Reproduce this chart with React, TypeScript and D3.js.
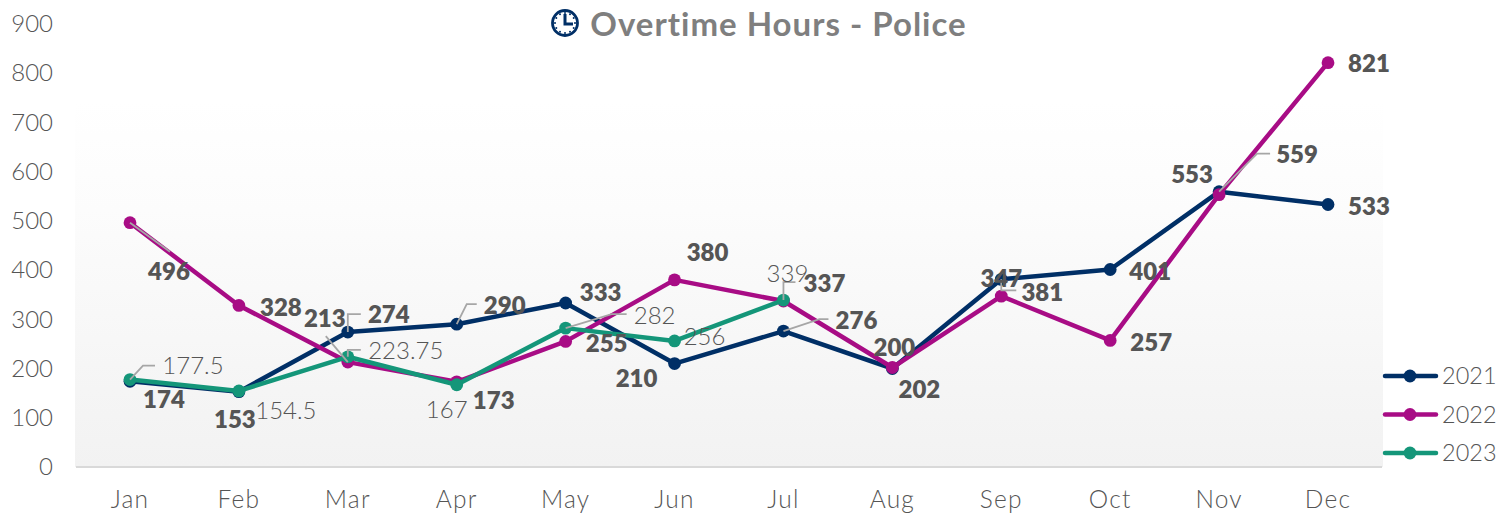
import React from "react";
import * as d3 from "d3";

const months = ["Jan","Feb","Mar","Apr","May","Jun","Jul","Aug","Sep","Oct","Nov","Dec"];
const values2021 = [174,153,274,290,333,210,276,200,381,401,559,533];
const values2022 = [496,328,213,173,255,380,337,202,347,257,553,821];
const values2023 = [177.5,154.5,223.75,167,282,256,339];
const yTicks = [0,100,200,300,400,500,600,700,800,900];

// label offsets from each point, and optional leader bends (relative to the point)
type Off = [number, number, [number, number][]?];
const place2021: Off[] = [[34,18],[-4,28],[41,-17,[[0,-18],[13,-18]]],[48,-19,[[10,-20],[20,-20]]],[35,-10],[-38,15],[73,-10,[[36,-12],[45,-12]]],[2,-21],[41,13,[[0,11],[15,11]]],[40,2],[78,-37,[[38,-38],[51,-38]]],[41,2]];
const place2022: Off[] = [[39,49,[[40,29]]],[42,2],[-23,-43,[[-22,-26]]],[37,19],[41,2],[33,-27],[41,-17],[27,22],[0,-18],[41,2],[-27,-20],[41,1]];
const place2023: Off[] = [[63,-14,[[13,-14],[25,-14]]],[47,20],[58,-6,[[0,-7],[13,-7]]],[-10,25],[89,-13,[[46,-14],[61,-14]]],[30,-4],[4,-26,[[0,-18],[12,-18]]]];

const series = [
  { name: "2021", values: values2021, color: "#002f66", place: place2021, bold: true },
  { name: "2022", values: values2022, color: "#a80c85", place: place2022, bold: true },
  { name: "2023", values: values2023, color: "#149679", place: place2023, bold: false },
];

const FONT = "Lato, 'Open Sans', sans-serif";
const TXT = "#555555";

export default function App() {
  const x = d3.scalePoint<string>().domain(months).range([130, 1328]);
  const y = d3.scaleLinear().domain([0, 900]).range([467, 23.75]);
  const line = d3.line<number>().x((_, i) => x(months[i])!).y(d => y(d));
  const legendY = d3.scalePoint<string>().domain(series.map(s => s.name)).range([376, 453]);
  const clockTicks = d3.range(12).map(i => (i * Math.PI) / 6);

  return (
    <svg width={1511} height={518} style={{ position: "absolute", left: 0, top: 0, fontFamily: FONT }}>
      <defs>
        <linearGradient id="bg" x1="0" y1="0" x2="0" y2="1">
          <stop offset="0" stopColor="#ffffff" />
          <stop offset="0.3" stopColor="#fcfcfc" />
          <stop offset="1" stopColor="#f2f2f2" />
        </linearGradient>
      </defs>
      <rect x={75} y={100} width={1308} height={367} fill="url(#bg)" />
      <line x1={76} x2={1382} y1={y(0)} y2={y(0)} stroke="#d9d9d9" strokeWidth={2} />

      {yTicks.map(t => (
        <text key={t} x={53} y={y(t)} dy="0.35em" textAnchor="end" fontSize={24} fill={TXT} fontWeight={300}>{t}</text>
      ))}
      {months.map(m => (
        <text key={m} x={x(m)} y={499} dy="0.35em" textAnchor="middle" fontSize={24.5} fill={TXT} fontWeight={300} letterSpacing={1.2}>{m}</text>
      ))}

      {series.map(s => (
        <g key={s.name}>
          <path d={line(s.values) ?? ""} fill="none" stroke={s.color} strokeWidth={4.5} strokeLinejoin="round" />
          {s.values.map((v, i) => (
            <circle key={i} cx={x(months[i])} cy={y(v)} r={6.4} fill={s.color} />
          ))}
        </g>
      ))}

      {series.map(s => s.values.map((v, i) => {
        const [dx, dy, bends] = s.place[i];
        const px = x(months[i])!, py = y(v);
        return (
          <g key={s.name + i}>
            {bends && (
              <polyline
                points={[[px, py], ...bends.map(([a, b]) => [px + a, py + b])].map(p => p.join(",")).join(" ")}
                fill="none" stroke="#a6a6a6" strokeWidth={1.8}
              />
            )}
            <text x={px + dx} y={py + dy} dy="0.35em" textAnchor="middle" fontSize={24}
              fontWeight={s.bold ? 800 : 300} fill={TXT}>{v}</text>
          </g>
        );
      }))}

      <g transform="translate(565,23)" fill="none" stroke="#002f66">
        <circle r={12.5} strokeWidth={2.8} />
        <path d="M0,-9V1H8" strokeWidth={3} />
        {clockTicks.map(a => (
          <circle key={a} cx={10 * Math.sin(a)} cy={-10 * Math.cos(a)} r={1} fill="#002f66" stroke="none" />
        ))}
      </g>
      <text x={778.5} y={24} dy="0.35em" textAnchor="middle" fontSize={33} fontWeight={700} fill="#7f7f7f" letterSpacing={1}>Overtime Hours - Police</text>

      {series.map(s => (
        <g key={s.name}>
          <line x1={1385} x2={1436} y1={legendY(s.name)} y2={legendY(s.name)} stroke={s.color} strokeWidth={4.5} strokeLinecap="round" />
          <circle cx={1410} cy={legendY(s.name)} r={6.4} fill={s.color} />
          <text x={1442} y={legendY(s.name)} dy="0.35em" fontSize={23.5} fill={TXT} fontWeight={300}>{s.name}</text>
        </g>
      ))}
    </svg>
  );
}
